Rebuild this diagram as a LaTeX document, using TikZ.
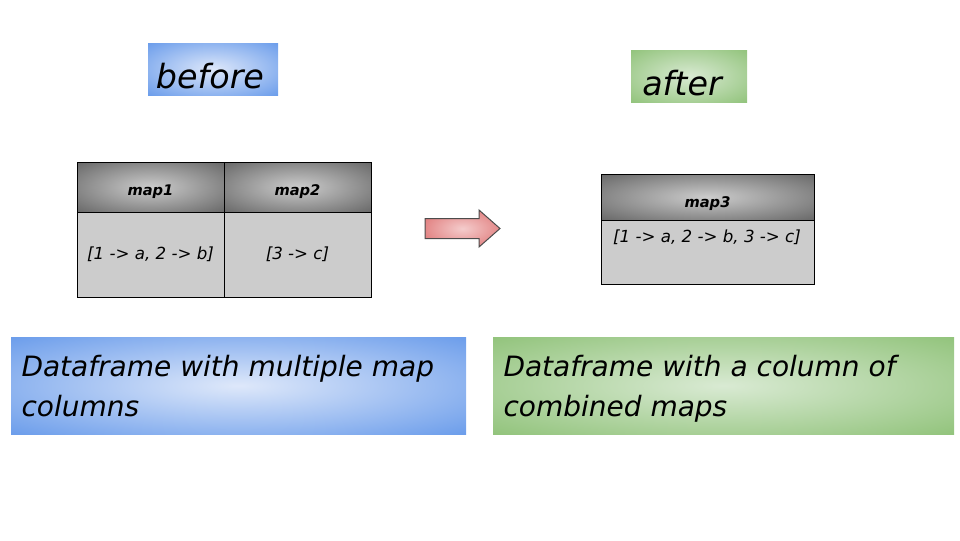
\documentclass[tikz,border=0pt]{standalone}
\usepackage{fontspec}
\setmainfont{DejaVu Sans}
\definecolor{bluedge}{RGB}{109,158,235}
\definecolor{bluemid}{RGB}{222,232,250}
\definecolor{greenedge}{RGB}{147,196,125}
\definecolor{greenmid}{RGB}{217,234,211}
\definecolor{grayedge}{RGB}{105,105,105}
\definecolor{graymid}{RGB}{204,204,204}
\definecolor{redge}{RGB}{221,110,110}
\definecolor{redmid}{RGB}{244,204,204}

\pgfdeclareradialshading{bluesoft}{\pgfpoint{0bp}{0bp}}{color(0bp)=(bluemid); color(35bp)=(bluedge); color(75bp)=(bluedge)}
\pgfdeclareradialshading{greensoft}{\pgfpoint{0bp}{0bp}}{color(0bp)=(greenmid); color(35bp)=(greenedge); color(75bp)=(greenedge)}
\pgfdeclareradialshading{graysoft}{\pgfpoint{0bp}{0bp}}{color(0bp)=(graymid); color(35bp)=(grayedge); color(75bp)=(grayedge)}
\pgfdeclareradialshading{redsoft}{\pgfpoint{0bp}{0bp}}{color(0bp)=(redmid); color(35bp)=(redge); color(75bp)=(redge)}

\tikzset{every picture/.style={line width=0.75pt}}
\tikzset{
  bluefill/.style={shading=bluesoft},
  greenfill/.style={shading=greensoft},
  headfill/.style={shading=graysoft},
  celltext/.style={inner sep=0.75pt, font=\fontsize{12.5}{15}\selectfont\itshape},
  headtext/.style={inner sep=0.75pt, font=\fontsize{11}{12}\selectfont\bfseries\itshape},
  bigtext/.style={inner sep=0.75pt, font=\fontsize{25}{30}\selectfont\itshape},
  notetext/.style={inner sep=0.75pt, align=left, font=\fontsize{21}{29.5}\selectfont\itshape}
}

\begin{document}
\begin{tikzpicture}[x=0.75pt,y=0.75pt,yscale=-1,xscale=1]
\useasboundingbox (0,0) rectangle (960,540);

%Shape: Rectangle [before]
\shade [bluefill] (148,43) rectangle (278,95) ;
%Shape: Rectangle [after]
\shade [greenfill] (631,50) rectangle (747,102) ;

%Shape: Table [left]
\fill [graymid] (77,212) rectangle (371,297) ;
\shade [headfill] (77,162) rectangle (224,212) ;
\shade [headfill] (224,162) rectangle (371,212) ;
\draw [line width=0.5pt] (77,162) rectangle (371,297) ;
\draw [line width=0.5pt] (77,212) -- (371,212) ;
\draw [line width=0.5pt] (224,162) -- (224,297) ;

%Shape: Table [right]
\fill [graymid] (601,220) rectangle (814,284) ;
\shade [headfill] (601,174) rectangle (814,220) ;
\draw [line width=0.5pt] (601,174) rectangle (814,284) ;
\draw [line width=0.5pt] (601,220) -- (814,220) ;

%Shape: Right Arrow
\draw [color=black!70, shading=redsoft] (425,218.5) -- (479,218.5) -- (479,210) -- (500,228.5) -- (479,247) -- (479,238.5) -- (425,238.5) -- cycle ;

%Shape: Rectangle [notes]
\shade [bluefill] (11,337) rectangle (466,434) ;
\shade [greenfill] (493,337) rectangle (954,434) ;

% Text Node
\node [bigtext] (before) at (210,76) {before};
% Text Node
\node [bigtext] (after) at (682,83) {after};
% Text Node
\node [headtext] (mapone) at (150.5,192) {map1};
\node [headtext] (maptwo) at (297.5,192) {map2};
\node [headtext] (mapthree) at (707.5,204) {map3};
% Text Node
\node [celltext] (cellone) at (150.5,254) {[1 -> a, 2 -> b]};
\node [celltext] (celltwo) at (297.5,254) {[3 -> c]};
\node [celltext] (cellthree) at (707,237) {[1 -> a, 2 -> b, 3 -> c]};
% Text Node
\node [notetext, anchor=north west] (noteleft) at (20,354) {Dataframe with multiple map\\columns};
% Text Node
\node [notetext, anchor=north west] (noteright) at (502,354) {Dataframe with a column of\\combined maps};

\end{tikzpicture}
\end{document}
